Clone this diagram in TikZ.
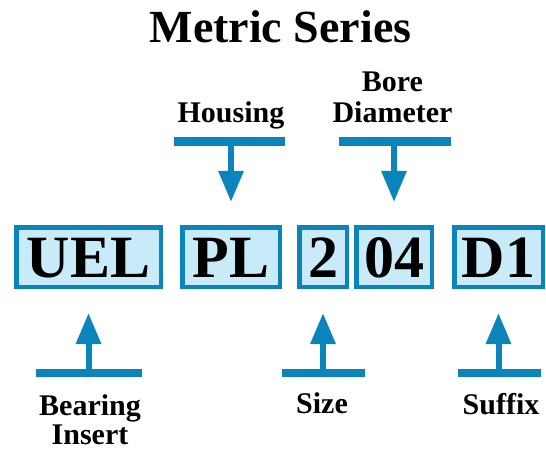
\documentclass[tikz,border=0pt]{standalone}
\usepackage{fontspec}
\setmainfont{Liberation Serif}
\usetikzlibrary{arrows.meta}
\definecolor{codeblue}{RGB}{10,132,186}
\definecolor{codefill}{RGB}{200,234,249}
\begin{document}
\begin{tikzpicture}[x=1pt,y=-1pt,
  codebox/.style={draw=codeblue, fill=codefill, line width=4.5pt, inner sep=0pt,
    minimum height=59.5pt, text height=40pt, text depth=0pt,
    font=\fontsize{60}{64}\selectfont\bfseries},
  lbl/.style={anchor=base, inner sep=0pt, font=\fontsize{30}{32}\selectfont\bfseries},
  bar/.style={draw=codeblue, line width=8.5pt},
  pointer/.style={draw=codeblue, line width=6pt, -{Triangle[width=24pt,length=31pt]}}]
\useasboundingbox (0,0) rectangle (546,449);
% title
\node[anchor=base, inner sep=0pt, font=\fontsize{46}{50}\selectfont\bfseries] (title) at (280.5,43) {Metric Series};
% code boxes
\node[codebox, minimum width=144.5pt] (uel) at (88.5,257) {UEL};
\node[codebox, minimum width=97.5pt] (pl) at (231,257) {PL};
\node[codebox, minimum width=47.5pt] (size) at (323,257) {2};
\node[codebox, minimum width=75.5pt] (bore) at (394,257) {04};
\node[codebox, minimum width=88.5pt] (suf) at (498.5,257) {D1};
% top labels
\node[lbl] (housing) at (231,123) {Housing};
\node[lbl] (bore1) at (392.5,92) {Bore};
\node[lbl] (bore2) at (392.5,123) {Diameter};
% bottom labels
\node[lbl] (bearing1) at (90,415) {Bearing};
\node[lbl, text depth=0pt] (bearing2) at (90,444) {Insert};
\node[lbl] (sizelbl) at (322,413) {Size};
\node[lbl] (suflbl) at (501,414) {Suffix};
% bars
\coordinate (hL) at (174,141.5); \coordinate (hR) at (285,141.5); \coordinate (hM) at (231,141.5);
\coordinate (bL) at (339,141.5); \coordinate (bR) at (451,141.5); \coordinate (bM) at (394,141.5);
\coordinate (eL) at (36,373); \coordinate (eR) at (142,373); \coordinate (eM) at (88.5,373);
\coordinate (sL) at (282,373); \coordinate (sR) at (365,373); \coordinate (sM) at (323,373);
\coordinate (fL) at (458,373); \coordinate (fR) at (541,373); \coordinate (fM) at (498.5,373);
\draw[bar] (hL) -- (hR);
\draw[bar] (bL) -- (bR);
\draw[bar] (eL) -- (eR);
\draw[bar] (sL) -- (sR);
\draw[bar] (fL) -- (fR);
% pointers
\draw[pointer, shorten >=23pt] (hM) -- (pl.north);
\draw[pointer, shorten >=23pt] (bM) -- (bore.north);
\draw[pointer, shorten >=24pt] (eM) -- (uel.south);
\draw[pointer, shorten >=24pt] (sM) -- (size.south);
\draw[pointer, shorten >=24pt] (fM) -- (suf.south);
\end{tikzpicture}
\end{document}
